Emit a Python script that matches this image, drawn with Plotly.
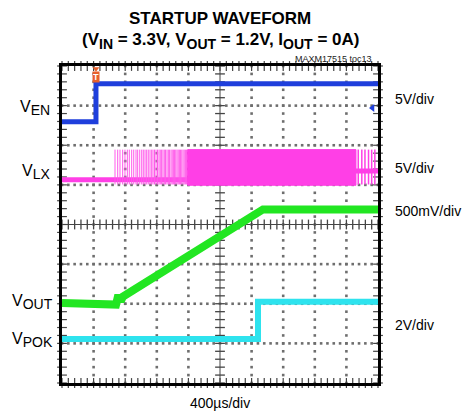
import numpy as np
import plotly.graph_objects as go

# ---------------- data (time in µs, voltages in V) ----------------
T_DIV = 400          # µs per division
N_XDIV = 10
N_YDIV = 8

# channel scales (V/div) and ground offsets (divisions from bottom)
en_scale, en_offset = 5.0, 6.59
lx_scale, lx_offset = 5.0, 5.13
out_scale, out_offset = 0.5, 2.02
pok_scale, pok_offset = 2.0, 1.11

en_t = [0, 430, 430, 4000]
en_v = [0.0, 0.0, 4.8, 4.8]
en_trig_level = 1.75

out_t = [0, 684, 713, 743, 772, 2544, 4000]
out_v = [0.0, -0.02, 0.10, 0.02, 0.08, 1.18, 1.18]

pok_t = [0, 2481, 2481, 4000]
pok_v = [0.0, 0.0, 1.88, 1.88]

lx_base_t = [0, 3721]
lx_base_v = [0.0, 0.0]
lx_spike_times = [671, 705, 734, 768, 797, 827, 852, 882, 908, 937, 958, 984,
                  1009, 1029, 1051, 1072, 1092, 1114, 1135, 1152, 1171, 1190,
                  1209, 1228, 1244, 1261, 1278, 1295, 1311, 1329, 1346, 1362,
                  1380, 1395, 1410, 1425, 1440, 1456, 1471, 1486, 1501, 1516,
                  1532, 1547, 1562, 1577]
lx_spike_hi, lx_spike_lo = 3.8, -0.6
lx_band_t = [1590, 3721]
lx_band_hi, lx_band_lo = 3.8, -0.7
lx_tail_t = [3721, 4000]
lx_tail_v = [1.1, 1.1]
lx_tail_spikes = [3750, 3795, 3835, 3880, 3920, 3960]

trig_time = 430

# ---------------- helpers ----------------
def to_div(v, scale, offset):
    return [offset + x / scale for x in v]

def spikes(times, lo, hi, scale, offset):
    xs, ys = [], []
    for t in times:
        xs += [t, t, None]
        ys += [offset + lo / scale, offset + hi / scale, None]
    return xs, ys

BLUE = "#1f3fdc"
PINK = "#ff3fe6"
PINK_LIGHT = "#ff5aea"
GREEN = "#22e622"
CYAN = "#2ee3ee"
ORANGE = "#e8602c"
TICK = "#444444"
DOT = "#6e6e6e"

fig = go.Figure()

# dotted graticule (dots at 1/5 division spacing)
gx, gy = [], []
for k in range(1, N_XDIV):
    if k == N_XDIV // 2:
        continue
    for y in np.arange(0, N_YDIV + 0.01, 0.2):
        gx.append(k * T_DIV); gy.append(y)
for j in range(1, N_YDIV):
    if j == N_YDIV // 2:
        continue
    for x in np.arange(0, T_DIV * N_XDIV + 1, T_DIV / 5):
        gx.append(x); gy.append(j)
fig.add_trace(go.Scatter(x=gx, y=gy, mode="markers",
                         marker=dict(symbol="square", size=2.6, color=DOT, line=dict(width=0)),
                         hoverinfo="skip", showlegend=False))

# center cross tick marks and edge ticks
cx = np.arange(0, T_DIV * N_XDIV + 1, T_DIV / 5)
cy = np.arange(0, N_YDIV + 0.01, 0.2)
fig.add_trace(go.Scatter(x=cx, y=[N_YDIV / 2] * len(cx), mode="markers",
                         marker=dict(symbol="line-ns-open", size=7, color=TICK,
                                     line=dict(width=1.3, color=TICK)),
                         hoverinfo="skip", showlegend=False))
for yv in [0, N_YDIV]:
    fig.add_trace(go.Scatter(x=cx, y=[yv] * len(cx), mode="markers",
                             marker=dict(symbol="line-ns-open", size=7, color=TICK,
                                         line=dict(width=1.2, color=TICK)),
                             hoverinfo="skip", showlegend=False, cliponaxis=False))
fig.add_trace(go.Scatter(x=[T_DIV * N_XDIV / 2] * len(cy), y=cy, mode="markers",
                         marker=dict(symbol="line-ew-open", size=7, color=TICK,
                                     line=dict(width=1.3, color=TICK)),
                         hoverinfo="skip", showlegend=False))
for xv in [0, T_DIV * N_XDIV]:
    fig.add_trace(go.Scatter(x=[xv] * len(cy), y=cy, mode="markers",
                             marker=dict(symbol="line-ew-open", size=7, color=TICK,
                                         line=dict(width=1.2, color=TICK)),
                             hoverinfo="skip", showlegend=False, cliponaxis=False))

# VLX
fig.add_trace(go.Scatter(x=lx_base_t, y=to_div(lx_base_v, lx_scale, lx_offset),
                         mode="lines", line=dict(color=PINK, width=5),
                         hoverinfo="skip", showlegend=False))
sx, sy = spikes(lx_spike_times, lx_spike_lo, lx_spike_hi, lx_scale, lx_offset)
fig.add_trace(go.Scatter(x=sx, y=sy, mode="lines", line=dict(color=PINK_LIGHT, width=1),
                         hoverinfo="skip", showlegend=False))
bt = [lx_band_t[0], lx_band_t[1], lx_band_t[1], lx_band_t[0], lx_band_t[0]]
bv = [lx_band_hi, lx_band_hi, lx_band_lo, lx_band_lo, lx_band_hi]
fig.add_trace(go.Scatter(x=bt, y=to_div(bv, lx_scale, lx_offset), mode="lines",
                         fill="toself", fillcolor=PINK, line=dict(color=PINK, width=1),
                         hoverinfo="skip", showlegend=False))
fig.add_trace(go.Scatter(x=lx_tail_t, y=to_div(lx_tail_v, lx_scale, lx_offset),
                         mode="lines", line=dict(color=PINK, width=5),
                         hoverinfo="skip", showlegend=False))
sx, sy = spikes(lx_tail_spikes, lx_spike_lo, lx_spike_hi, lx_scale, lx_offset)
fig.add_trace(go.Scatter(x=sx, y=sy, mode="lines", line=dict(color=PINK, width=1.5),
                         hoverinfo="skip", showlegend=False))

# VEN
fig.add_trace(go.Scatter(x=en_t, y=to_div(en_v, en_scale, en_offset), mode="lines",
                         line=dict(color=BLUE, width=5), hoverinfo="skip", showlegend=False))
# VOUT
fig.add_trace(go.Scatter(x=out_t, y=to_div(out_v, out_scale, out_offset), mode="lines",
                         line=dict(color=GREEN, width=8), hoverinfo="skip", showlegend=False))
# VPOK
fig.add_trace(go.Scatter(x=pok_t, y=to_div(pok_v, pok_scale, pok_offset), mode="lines",
                         line=dict(color=CYAN, width=6), hoverinfo="skip", showlegend=False))

# trigger level arrow (right edge) and trigger position marker (top)
fig.add_trace(go.Scatter(x=[3930], y=to_div([en_trig_level], en_scale, en_offset),
                         mode="markers", marker=dict(symbol="triangle-left", size=7, color=BLUE),
                         hoverinfo="skip", showlegend=False))
fig.add_trace(go.Scatter(x=[trig_time], y=[7.93], mode="markers",
                         marker=dict(symbol="triangle-down", size=6, color=ORANGE),
                         hoverinfo="skip", showlegend=False))

W, H = 463, 413
def px(x):
    return x / W
def py(y):
    return 1 - y / H

FONT = "Liberation Sans"
def sub(s, size):
    return "<sub><span style='font-size:%dpx'>%s</span></sub>" % (size, s)

annotations = [
    dict(x=trig_time, y=7.72, xref="x", yref="y", text="<b>T</b>", xanchor="center",
         font=dict(size=9, color="white", family=FONT),
         bgcolor=ORANGE, borderpad=0),
    dict(x=px(220), y=py(18), text="<b>STARTUP WAVEFORM</b>", xanchor="center",
         font=dict(size=17, family=FONT, color="black")),
    dict(x=px(220), y=py(41), xanchor="center",
         text="<b>(V%s = 3.3V, V%s = 1.2V, I%s = 0A)</b>" % (sub("IN", 14), sub("OUT", 14), sub("OUT", 14)),
         font=dict(size=17, family=FONT, color="black")),
    dict(x=px(374), y=py(59), text="MAXM17515 toc13", xanchor="right",
         font=dict(size=9, family=FONT, color="#222")),
    dict(x=px(18), y=py(108), text="V" + sub("EN", 14), xanchor="left",
         font=dict(size=16, family=FONT, color="black")),
    dict(x=px(20), y=py(172), text="V" + sub("LX", 14), xanchor="left",
         font=dict(size=16, family=FONT, color="black")),
    dict(x=px(10), y=py(302), text="V" + sub("OUT", 14), xanchor="left",
         font=dict(size=16, family=FONT, color="black")),
    dict(x=px(10), y=py(340), text="V" + sub("POK", 14), xanchor="left",
         font=dict(size=16, family=FONT, color="black")),
    dict(x=px(393), y=py(99), text="5V/div", xanchor="left",
         font=dict(size=14, family=FONT, color="black")),
    dict(x=px(393), y=py(168), text="5V/div", xanchor="left",
         font=dict(size=14, family=FONT, color="black")),
    dict(x=px(393), y=py(211), text="500mV/div", xanchor="left",
         font=dict(size=14, family=FONT, color="black")),
    dict(x=px(393), y=py(325), text="2V/div", xanchor="left",
         font=dict(size=14, family=FONT, color="black")),
    dict(x=px(220), y=py(403), text="400µs/div", xanchor="center",
         font=dict(size=14, family=FONT, color="black")),
]
for a in annotations:
    a.setdefault("xref", "paper")
    a.setdefault("yref", "paper")
    a.setdefault("yanchor", "middle")
    a.setdefault("showarrow", False)

axis_common = dict(showticklabels=False, showline=True, linewidth=3, linecolor="black",
                   mirror=True, ticks="", showgrid=False, zeroline=False, fixedrange=True)

fig.update_layout(
    width=W, height=H, margin=dict(l=0, r=0, t=0, b=0),
    paper_bgcolor="white", plot_bgcolor="white",
    xaxis=dict(range=[0, T_DIV * N_XDIV], dtick=T_DIV, domain=[62 / W, 378 / W],
               **axis_common),
    yaxis=dict(range=[0, N_YDIV], dtick=1, domain=[(H - 383) / H, (H - 66) / H],
               **axis_common),
    shapes=[
        dict(type="line", xref="x", yref="y domain", x0=T_DIV * N_XDIV / 2,
             x1=T_DIV * N_XDIV / 2, y0=0, y1=1, line=dict(color=TICK, width=1),
             layer="below"),
        dict(type="line", xref="x domain", yref="y", x0=0, x1=1, y0=N_YDIV / 2,
             y1=N_YDIV / 2, line=dict(color=TICK, width=1), layer="below"),
    ],
    annotations=annotations,
)

fig.write_html("out.html")
